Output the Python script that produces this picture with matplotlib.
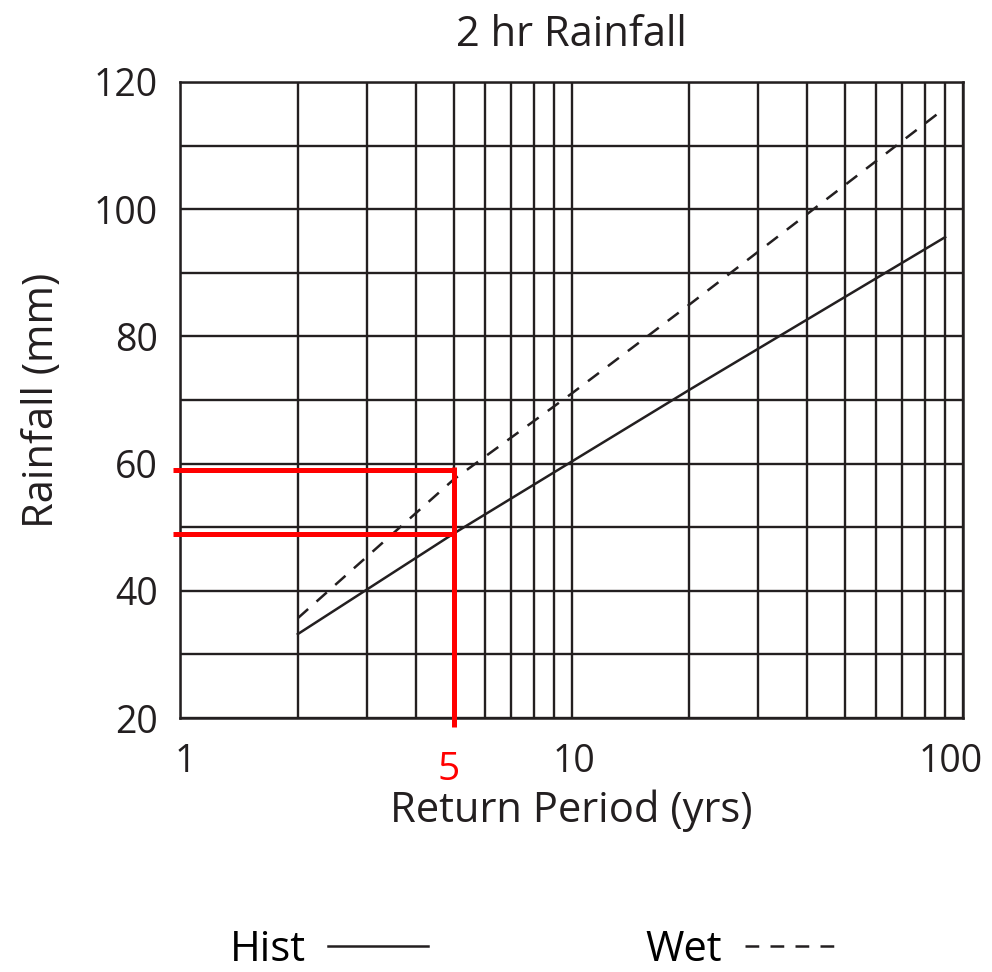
import matplotlib
matplotlib.use("Agg")
import matplotlib.pyplot as plt
import matplotlib.transforms as mtransforms
from matplotlib.ticker import FixedLocator, NullFormatter

plt.rcParams['font.family'] = ['Open Sans', 'DejaVu Sans']

# ---- data ----
hist_x = [2, 5, 10, 20, 90]
hist_y = [33.2, 49.0, 60.3, 71.6, 95.6]
wet_x = [2, 5, 10, 20, 90]
wet_y = [35.7, 57.5, 71.0, 85.0, 115.9]

highlight_rp = 5
highlight_vals = [49, 59]

x_major = [1, 10, 100]
x_major_labels = ["1", "10", "100"]
x_minor = [2, 3, 4, 5, 6, 7, 8, 9, 20, 30, 40, 50, 60, 70, 80, 90]
y_ticks = [20, 40, 60, 80, 100, 120]
y_grid = [30, 50, 70, 90, 110]

title = "2 hr Rainfall"
xlabel = "Return Period (yrs)"
ylabel = "Rainfall (mm)"

ink = "#231f20"
red = "#ff0000"
fs = 27
fl = 30

fig = plt.figure(figsize=(9.92, 9.72), dpi=100)
ax = fig.add_axes([180/992, 1-718/972, (963-180)/992, (718-82)/972])
ax.set_xscale('log')
ax.set_xlim(1, 100)
ax.set_ylim(20, 120)

ax.xaxis.set_major_locator(FixedLocator(x_major))
ax.set_xticklabels(x_major_labels)
ax.xaxis.set_minor_locator(FixedLocator(x_minor))
ax.xaxis.set_minor_formatter(NullFormatter())
ax.set_yticks(y_ticks)
ax.set_yticks(y_grid, minor=True)

ax.grid(True, which='both', color=ink, lw=1.7)
ax.set_axisbelow(True)
for s in ax.spines.values():
    s.set_color(ink)
    s.set_linewidth(1.8)
ax.tick_params(which='both', length=0)
ax.tick_params(axis='x', labelsize=fs, pad=18, colors=ink)
ax.tick_params(axis='y', labelsize=fs, pad=16, colors=ink)
offsets = {"1": 5, "10": 2, "100": -12}
for lab in ax.get_xticklabels():
    t = lab.get_text()
    if t in offsets:
        lab.set_transform(lab.get_transform() +
                          mtransforms.ScaledTranslation(offsets[t] / 100, 0, fig.dpi_scale_trans))

h_line, = ax.plot(hist_x, hist_y, color=ink, lw=1.8, label="Hist")
w_line, = ax.plot(wet_x, wet_y, color=ink, lw=1.8, linestyle=(0, (5.5, 4.5)), label="Wet")

# red guide lines
for v in highlight_vals:
    ax.plot([0.96, highlight_rp], [v, v], color=red, lw=3.6, clip_on=False,
            solid_capstyle='butt', zorder=5)
ax.plot([highlight_rp, highlight_rp], [max(highlight_vals) + 0.4, 18.6], color=red, lw=3.6,
        clip_on=False, solid_capstyle='butt', zorder=5)
ax.text(highlight_rp * 0.97, 14.8, str(highlight_rp), color=red, fontsize=fs + 1,
        ha='center', va='top')

ax.set_title(title, fontsize=fl, pad=26, color=ink)
ax.set_xlabel(xlabel, fontsize=fl, labelpad=6, color=ink)
ax.set_ylabel(ylabel, fontsize=fl, labelpad=22, color=ink)

fig.legend(handles=[h_line, w_line], loc='center', bbox_to_anchor=(537/992, 1-950/972),
           ncol=2, frameon=False, markerfirst=False, fontsize=fl,
           handlelength=2.4, handletextpad=0.55, columnspacing=5.2)

fig.savefig("out.png", dpi=100)
